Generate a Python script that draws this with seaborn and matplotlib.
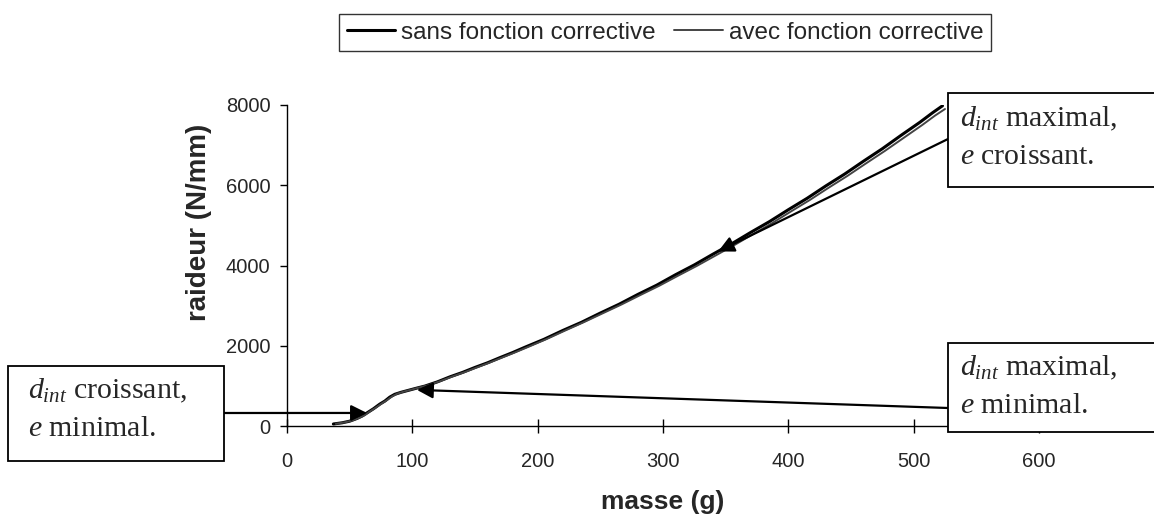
import matplotlib
matplotlib.use("Agg")
import matplotlib.pyplot as plt
from matplotlib.patches import Rectangle
import pandas as pd
import seaborn as sns

# Stiffness vs. mass, without / with the corrective function
masse_sans = [37, 44, 50, 56, 60, 64, 69, 74, 78, 82, 86, 91, 97, 103, 110, 120,
              130, 140, 150, 160, 170, 180, 190, 205, 220, 235, 250, 265, 280, 295,
              310, 325, 340, 355, 370, 385, 400, 415, 430, 445, 460, 475, 490, 505,
              515, 523]
raideur_sans = [50, 80, 120, 190, 250, 330, 430, 545, 620, 720, 790, 840, 890, 940,
                995, 1100, 1225, 1335, 1460, 1575, 1705, 1830, 1965, 2160, 2380,
                2585, 2815, 3035, 3280, 3510, 3770, 4015, 4285, 4545, 4825, 5095,
                5390, 5675, 5985, 6280, 6600, 6910, 7245, 7570, 7805, 7980]

masse_avec = [39, 46, 52, 58, 62, 66, 71, 76, 80, 84, 88, 93, 99, 105, 112, 122,
              132, 142, 152, 162, 172, 182, 192, 207, 222, 237, 252, 267, 282, 297,
              312, 327, 342, 357, 372, 387, 402, 417, 432, 447, 462, 477, 492, 507,
              517, 525]
raideur_avec = [55, 90, 135, 210, 270, 360, 460, 570, 650, 740, 805, 855, 905, 955,
                1010, 1115, 1235, 1345, 1465, 1585, 1710, 1835, 1965, 2165, 2380,
                2590, 2810, 3030, 3265, 3495, 3745, 3990, 4250, 4510, 4785, 5055,
                5345, 5630, 5935, 6230, 6545, 6855, 7180, 7505, 7735, 7900]

x_ticks = [0, 100, 200, 300, 400, 500, 600]
y_ticks = [0, 2000, 4000, 6000, 8000]

serie_labels = ["sans fonction corrective", "avec fonction corrective"]

sns.set_theme(style="white")
plt.rcParams["font.family"] = ["Liberation Sans", "DejaVu Sans"]
plt.rcParams["mathtext.fontset"] = "custom"
plt.rcParams["mathtext.rm"] = "Liberation Serif"
plt.rcParams["mathtext.it"] = "Liberation Serif:italic"

W, H = 1154, 527
fig = plt.figure(figsize=(W / 100, H / 100), dpi=100)
ax = fig.add_axes([287 / W, 1 - 426 / H, (1039 - 287) / W, (426 - 105) / H])

df_sans = pd.DataFrame({"masse": masse_sans, "raideur": raideur_sans})
df_avec = pd.DataFrame({"masse": masse_avec, "raideur": raideur_avec})
sns.lineplot(data=df_sans, x="masse", y="raideur", ax=ax, color="black",
             lw=2.2, label=serie_labels[0], sort=False, legend=False)
sns.lineplot(data=df_avec, x="masse", y="raideur", ax=ax, color="#444444",
             lw=1.4, label=serie_labels[1], sort=False, legend=False)

ax.set_xlim(0, 600)
ax.set_ylim(0, 8000)
ax.set_xticks(x_ticks)
ax.set_yticks(y_ticks)
ax.set_xticklabels([str(v) for v in x_ticks])
ax.set_yticklabels([str(v) for v in y_ticks])
for side in ("top", "right"):
    ax.spines[side].set_visible(False)
for side in ("left", "bottom"):
    ax.spines[side].set_color("black")
    ax.spines[side].set_linewidth(1.0)
ax.tick_params(axis="y", direction="out", length=5, width=1, color="black",
               labelsize=14.5, pad=7, left=True)
ax.tick_params(axis="x", direction="inout", length=10, width=1, color="black",
               labelsize=14.5, pad=14, bottom=True)
ax.grid(False)

ax.set_xlabel("masse (g)", fontsize=19, fontweight="bold")
ax.set_ylabel("raideur (N/mm)", fontsize=20, fontweight="bold")
ax.xaxis.set_label_coords(0.5, -0.20)
ax.yaxis.set_label_coords(-0.10, 0.635)

handles, labels = ax.get_legend_handles_labels()
leg = fig.legend(handles, labels, loc="center", bbox_to_anchor=(665 / W, 1 - 32.5 / H),
                 ncol=2, frameon=True, fancybox=False, fontsize=17.5,
                 handlelength=2.0, handletextpad=0.25, columnspacing=0.75,
                 borderpad=0.3, borderaxespad=0)
leg.get_frame().set_edgecolor("black")
leg.get_frame().set_linewidth(1.0)


def px(x, y):
    # pixel position measured from the top-left corner -> figure fraction
    return x / W, 1 - y / H


# Annotation boxes
boxes = [
    ((8, 366), (224, 461), [r"$d_{int}$ croissant,", r"$e$ minimal."], (28, 391, 429)),
    ((948, 93), (1170, 187), [r"$d_{int}$ maximal,", r"$e$ croissant."], (960, 119, 157)),
    ((948, 343), (1170, 432), [r"$d_{int}$ maximal,", r"$e$ minimal."], (960, 368, 406)),
]
for (x0, y0), (x1, y1), lines, (tx, ty1, ty2) in boxes:
    fx0, fy1 = px(x0, y1)
    rect = Rectangle((fx0, fy1), (x1 - x0) / W, (y1 - y0) / H,
                     transform=fig.transFigure, facecolor="white",
                     edgecolor="black", lw=1.3, zorder=5)
    fig.add_artist(rect)
    for line, ty in zip(lines, (ty1, ty2)):
        fig.text(*px(tx, ty), line, fontsize=21.5, family="Liberation Serif",
                 ha="left", va="center", zorder=6)

# Arrows from the boxes to the curve
arrows = [
    ((224, 413), (63.8, 325)),
    ((948, 408), (103.7, 900)),
    ((948, 139), (344, 4350)),
]
for (tx, ty), (mx, my) in arrows:
    ax.annotate("", xy=(mx, my), xycoords="data",
                xytext=(tx, H - ty), textcoords="figure pixels",
                arrowprops=dict(arrowstyle="-|>", color="black", lw=1.6,
                                mutation_scale=24, shrinkA=0, shrinkB=0),
                annotation_clip=False, zorder=4)

fig.savefig("out.png", dpi=100)
